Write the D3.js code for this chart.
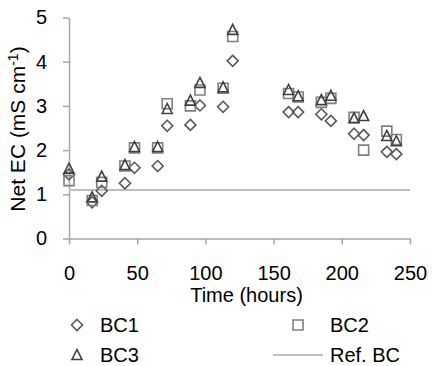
<!DOCTYPE html>
<html><head><meta charset="utf-8">
<script src="https://cdn.jsdelivr.net/npm/d3@7"></script>
<style>
html,body{margin:0;padding:0;background:#fff;}
svg{display:block;font-family:"Liberation Sans",Arial,sans-serif;}
</style></head>
<body>
<svg id="chart" width="432" height="366"></svg>
<script>
const times = [0,17,24,41,48,65,72,89,96,113,120,161,168,185,192,209,216,233,240];
const bc1 = [1.45,0.82,1.08,1.25,1.6,1.64,2.55,2.57,3.01,2.98,4.02,2.86,2.86,2.81,2.66,2.37,2.34,1.96,1.91];
const bc2 = [1.31,0.86,1.27,1.64,2.05,2.05,3.05,3.0,3.36,3.4,4.57,3.28,3.2,3.08,3.17,2.74,2.0,2.43,2.24];
const bc3 = [1.58,0.93,1.4,1.66,2.07,2.07,2.93,3.12,3.52,3.42,4.72,3.36,3.22,3.13,3.23,2.72,2.77,2.32,2.2];
const refBC = 1.1;
const xTicks = [0,50,100,150,200,250];
const yTicks = [0,1,2,3,4,5];
const seriesNames = ["BC1","BC2","BC3","Ref. BC"];

const svg = d3.select("#chart");
const x = d3.scaleLinear().domain([0,250]).range([69,410]);
const y = d3.scaleLinear().domain([0,5]).range([238.5,17.5]);
const axisColor = "#a6a6a6";
const fs = 20;

// axes
const gx = svg.append("g").attr("transform",`translate(0,${y(0)})`)
  .call(d3.axisBottom(x).tickValues(xTicks).tickFormat(d3.format("d")).tickSize(6).tickPadding(21).tickSizeOuter(0));
const gy = svg.append("g").attr("transform",`translate(${x(0)},0)`)
  .call(d3.axisLeft(y).tickValues(yTicks).tickFormat(d3.format("d")).tickSize(6).tickPadding(16).tickSizeOuter(0));
[gx,gy].forEach(g=>{
  g.select(".domain").attr("stroke",axisColor).attr("stroke-width",1.5);
  g.selectAll(".tick line").attr("stroke",axisColor).attr("stroke-width",1.5);
  g.selectAll(".tick text").attr("fill","#000").attr("font-size",fs).attr("font-family","Liberation Sans, Arial, sans-serif");
});

// ref line
svg.append("line").attr("x1",x(0)).attr("x2",x(250)).attr("y1",y(refBC)).attr("y2",y(refBC))
  .attr("stroke","#bfbfbf").attr("stroke-width",2);

// marker shapes
const shapes = {
  diamond: "M0,-5.5L5.5,0L0,5.5L-5.5,0Z",
  square: "M-5,-5H5V5H-5Z",
  triangle: "M0,-5.5L5,4.5H-5Z"
};
const styles = [
  {data:bc1, shape:"diamond", color:"#595959"},
  {data:bc2, shape:"square", color:"#7f7f7f"},
  {data:bc3, shape:"triangle", color:"#404040"}
];
styles.forEach(s=>{
  svg.append("g").selectAll("path").data(times.map((t,i)=>({t,v:s.data[i]}))).join("path")
    .attr("d",shapes[s.shape])
    .attr("transform",d=>`translate(${x(d.t)},${y(d.v)})`)
    .attr("fill","none").attr("stroke",s.color).attr("stroke-width",1.6);
});

// axis titles
svg.append("text").attr("x",246.5).attr("y",302).attr("text-anchor","middle")
  .attr("font-size",fs).text("Time (hours)");
const yl = svg.append("text").attr("transform","translate(24.5,129) rotate(-90)")
  .attr("text-anchor","middle").attr("font-size",21);
yl.append("tspan").text("Net EC (mS cm");
yl.append("tspan").attr("font-size",14).attr("dy",-7).text("-1");
yl.append("tspan").attr("dy",7).text(")");

// legend
const leg = svg.append("g");
const legItems = [
  {name:seriesNames[0], shape:"diamond", color:"#595959", mx:77, tx:100, y:325},
  {name:seriesNames[1], shape:"square", color:"#7f7f7f", mx:298, tx:330, y:325},
  {name:seriesNames[2], shape:"triangle", color:"#404040", mx:77, tx:100, y:355},
];
legItems.forEach(it=>{
  leg.append("path").attr("d",shapes[it.shape]).attr("transform",`translate(${it.mx},${it.y})`)
    .attr("fill","none").attr("stroke",it.color).attr("stroke-width",1.6);
  leg.append("text").attr("x",it.tx).attr("y",it.y+7).attr("font-size",fs).text(it.name);
});
leg.append("line").attr("x1",273).attr("x2",323).attr("y1",355).attr("y2",355)
  .attr("stroke","#bfbfbf").attr("stroke-width",2);
leg.append("text").attr("x",330).attr("y",362).attr("font-size",fs).text(seriesNames[3]);
</script>
</body></html>
